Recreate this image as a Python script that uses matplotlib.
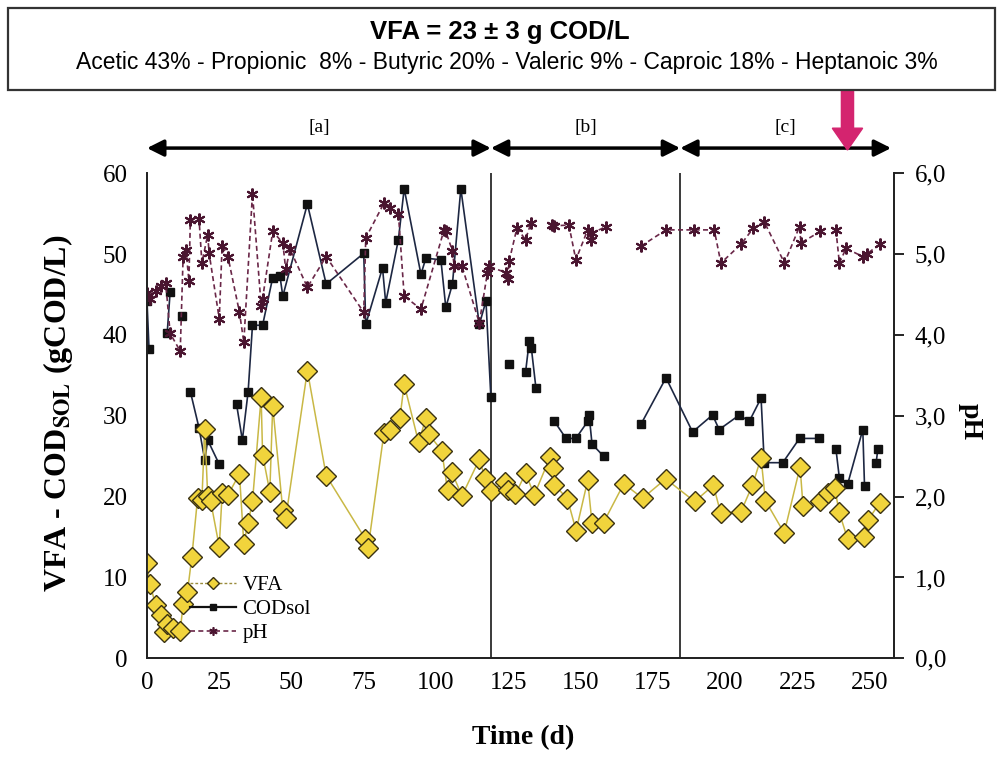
#!/usr/bin/env python3
"""VFA, soluble COD and pH over time with header box of VFA composition."""

import numpy as np
import matplotlib

matplotlib.use("Agg")
import matplotlib.pyplot as plt
from matplotlib import font_manager
from matplotlib.lines import Line2D
from matplotlib.patches import FancyArrow, Rectangle

nan = np.nan

# ---- data ----
VFA_DAY = [0, 1, 3, 5, 6, 7, 9, 11.5, 12.5, 14,
           15.5, 17.5, 19, 20, 21, 22, 25, 26, 28, 32,
           33.5, 35, 36.5, 39.5, 40, 42.5, 43.5, 47, 48, 55.5,
           62, 75.5, 76.5, 82, 84, 87.5, 89, 94, 96.5, 97.5,
           102, 104, 105.5, 109, 115, 117, 119, 124, 125, 127.5,
           131, 134, 139.5, 140.5, 141, 145.5, 148.5, 152.5, 154, 158,
           165, 171.5, 179.5, 189.5, 196, 198.5, 205.5, 209.5, 212.5, 214,
           220.5, 226, 227, 233, 235.5, 238, 239.5, 242.5, 248, 249.5,
           253.5]
VFA = [11.8, 9.2, 6.6, 5.3, 3.3, 4.2, 3.8, 3.4, 6.7, 8.2,
       12.5, 19.8, 19.6, 28.4, 20.1, 19.5, 13.8, 20.4, 20.2, 22.8,
       14.2, 16.8, 19.4, 32.3, 25.2, 20.6, 31.2, 18.3, 17.3, 35.6,
       22.6, 14.8, 13.6, 27.9, 28.2, 29.7, 33.9, 26.7, 29.7, 27.7,
       25.7, 20.8, 23.0, 20.1, 24.6, 22.3, 20.7, 21.8, 20.8, 20.3,
       22.9, 20.2, 24.9, 23.6, 21.5, 19.7, 15.8, 22.0, 16.7, 16.8,
       21.6, 19.8, 22.2, 19.4, 21.4, 18.0, 18.1, 21.4, 24.8, 19.5,
       15.5, 23.7, 18.9, 19.4, 20.4, 21.1, 18.1, 14.7, 15.0, 17.1,
       19.2]

COD_DAY = [0, 0.7, nan, 7, 8, nan, 12, nan, 15, 18,
           20, 21, 25, nan, 31, 33, 35, 36.5, 40, 43.5,
           46, 47, 55.5, 62, 75, 75.7, 81.5, 82.6, 87, 89,
           94.8, 96.5, 101.7, 103.4, 105.7, 108.6, 115, 117.3, 119, nan,
           125.3, nan, 131, 132.3, 133, 134.6, nan, 141, 145, 148.4,
           152.5, 153, 154, 158, nan, 171, 179.6, 188.8, 195.7, 198,
           205, 208.4, 212.5, 213.6, 220, 225.8, 232.7, nan, 238.4, 239.6,
           242.5, 247.7, 248.3, nan, 252.3, 252.9]
COD = [44.2, 38.3, nan, 40.3, 45.3, nan, 42.3, nan, 33.0, 28.5,
       24.5, 27.0, 24.0, nan, 31.4, 27.0, 33.0, 41.2, 41.2, 47.1,
       47.3, 44.8, 56.2, 46.3, 50.1, 41.3, 48.3, 44.0, 51.8, 58.1,
       47.5, 49.5, 49.3, 43.4, 46.3, 58.1, 41.3, 44.2, 32.3, nan,
       36.4, nan, 35.4, 39.3, 38.4, 33.4, nan, 29.3, 27.2, 27.2,
       29.3, 30.1, 26.5, 25.0, nan, 29.0, 34.7, 28.0, 30.1, 28.3,
       30.1, 29.3, 32.2, 24.2, 24.2, 27.2, 27.2, nan, 25.9, 22.3,
       21.6, 28.3, 21.3, nan, 24.1, 25.9]

PH_DAY = [0, 1, 3, 5, 6.5, 8, 11.5, 12.5, 13.5, 14.5,
          15, 18, 19, 21, 21.5, 25, 26, 28, 32, 33.5,
          36.5, 39.5, 40, 43.5, 47, 48, 49.5, 55.5, 62, 75,
          75.7, 82, 84, 87, 89, 94.8, 102.8, 103.4, 105.7, 106.3,
          109, 115, 117.8, 118.4, 124.2, 124.8, 125.3, 128, 131, 132.8,
          nan, 140.3, 141, 146, 148.4, 152.5, 153.6, 154, 158.8, nan,
          171, 179.6, 189.4, 196.3, 198.6, 205.5, 209.8, 213.6, 220.6, 225.8,
          226.3, 233, nan, 238.4, 239.6, 241.9, 247.7, 249, 253.5]
PH = [4.52, 4.45, 4.55, 4.6, 4.64, 4.02, 3.8, 4.97, 5.05, 4.67,
      5.42, 5.44, 4.89, 5.24, 5.01, 4.2, 5.1, 4.97, 4.28, 3.91,
      5.75, 4.36, 4.45, 5.28, 5.14, 4.81, 5.06, 4.59, 4.97, 4.28,
      5.2, 5.63, 5.57, 5.5, 4.48, 4.32, 5.3, 5.28, 5.04, 4.85,
      4.85, 4.15, 4.77, 4.85, 4.77, 4.69, 4.91, 5.32, 5.18, 5.38,
      nan, 5.36, 5.35, 5.36, 4.93, 5.3, 5.18, 5.26, 5.34, nan,
      5.1, 5.3, 5.3, 5.3, 4.89, 5.12, 5.32, 5.4, 4.89, 5.34,
      5.14, 5.28, nan, 5.3, 4.89, 5.07, 4.97, 5.0, 5.12]

PERIOD_EDGES = [0, 119, 184.5, 257.5]
PERIOD_LABELS = ["[a]", "[b]", "[c]"]
SAMPLE_DAY = 242.4

HEADER_TITLE = "VFA = 23 ± 3 g COD/L"
HEADER_SUB = ("Acetic 43% - Propionic  8% - Butyric 20% - Valeric 9% - "
              "Caproic 18% - Heptanoic 3%")

# ---- style ----
SERIF = "Liberation Serif"
installed = {f.name for f in font_manager.fontManager.ttflist}
NARROW = "Liberation Sans Narrow" if "Liberation Sans Narrow" in installed else "Liberation Sans"

VFA_FILL = "#f1d43c"
VFA_EDGE = "#3a3212"
VFA_LINE = "#c9b845"
COD_COLOR = "#111111"
COD_LINE = "#1d2742"
PH_COLOR = "#6a2748"

plt.rcParams["font.family"] = SERIF
plt.rcParams["mathtext.fontset"] = "stix"

W, H = 1001, 765
fig = plt.figure(figsize=(W / 100, H / 100), dpi=100)
ax = fig.add_axes([147 / W, 1 - 658.3 / H, (894 - 147) / W, (658.3 - 173.3) / H])
ax2 = ax.twinx()

ax.plot(COD_DAY, COD, color=COD_LINE, lw=1.2, marker="s", ms=5.5,
        mfc=COD_COLOR, mec=COD_COLOR, zorder=3)
ax.plot(VFA_DAY, VFA, color=VFA_LINE, lw=1.1, marker="D", ms=10,
        mfc=VFA_FILL, mec=VFA_EDGE, mew=1.0, zorder=4)
ax2.plot(PH_DAY, PH, color=PH_COLOR, lw=1.2, ls=(0, (3, 2)), marker=(6, 2, 0),
         ms=8.5, mec="#4a1530", mew=1.5)

for edge in PERIOD_EDGES[1:-1]:
    ax.axvline(edge, color="#2b2b2b", lw=1.3, zorder=2)

ax.set_xlim(0, 258.5)
ax.set_ylim(0, 60)
ax2.set_ylim(0, 6)
ax.set_xticks(range(0, 251, 25))
ax.set_yticks(range(0, 61, 10))
ph_ticks = np.arange(0, 6.01, 1.0)
ax2.set_yticks(ph_ticks)
ax2.set_yticklabels([f"{v:.1f}".replace(".", ",") for v in ph_ticks])

for a in (ax, ax2):
    a.spines["top"].set_visible(False)
    for s in a.spines.values():
        s.set_linewidth(1.3)
        s.set_color("#222222")
ax.tick_params(axis="x", length=0, labelsize=18, pad=10)
ax.tick_params(axis="y", length=0, labelsize=18, pad=14)
ax2.tick_params(axis="y", length=7, width=1.2, direction="out", labelsize=18, pad=8)

fig.text(58 / W, 1 - 413 / H, r"VFA - COD$_{\mathbf{SOL}}$ (gCOD/L)", rotation=90,
         ha="center", va="center", fontsize=23, fontweight="bold")
fig.text(523 / W, 1 - 738 / H, "Time (d)", ha="center", va="center",
         fontsize=20, fontweight="bold")
fig.text(970 / W, 1 - 422 / H, "pH", rotation=270, ha="center", va="center",
         fontsize=20, fontweight="bold")

# period arrows and labels above the plot
xt = ax.get_xaxis_transform()
for lo, hi, lab in zip(PERIOD_EDGES[:-1], PERIOD_EDGES[1:], PERIOD_LABELS):
    ax.annotate("", xy=(hi, 1.052), xytext=(lo, 1.052), xycoords=xt, textcoords=xt,
                annotation_clip=False,
                arrowprops=dict(arrowstyle="<|-|>,head_length=0.5,head_width=0.25",
                                lw=2.5, color="black", shrinkA=0, shrinkB=0,
                                mutation_scale=20))
    ax.text((lo + hi) / 2, 1.094, lab, transform=xt, ha="center", va="center",
            fontsize=14)

# sampling arrow
ax.add_patch(FancyArrow(SAMPLE_DAY, 1.17, 0, -0.122, width=4.2, head_width=10.5,
                        head_length=0.045, length_includes_head=True,
                        transform=xt, color="#d4246f", clip_on=False, zorder=6))

# header box
fig.patches.append(Rectangle((8 / W, 1 - 90 / H), (995 - 8) / W, (90 - 8) / H,
                             transform=fig.transFigure, fill=False, lw=1.6,
                             ec="#333333"))
fig.text(500 / W, 1 - 32 / H, HEADER_TITLE, ha="center", va="center",
         fontsize=18.5, fontweight="bold", family=NARROW)
fig.text(507 / W, 1 - 63 / H, HEADER_SUB, ha="center", va="center",
         fontsize=16.5, family=NARROW)

handles = [
    Line2D([], [], color="#9a8c3c", lw=1, ls=(0, (2, 1.5)), marker="D", ms=6,
           mfc=VFA_FILL, mec=VFA_EDGE),
    Line2D([], [], color=COD_COLOR, lw=1.6, marker="s", ms=5, mfc=COD_COLOR,
           mec=COD_COLOR),
    Line2D([], [], color=PH_COLOR, lw=1.2, ls=(0, (3, 2)), marker=(6, 2, 0),
           ms=6, mec="#4a1530", mew=1.2),
]
ax.legend(handles, ["VFA", "CODsol", "pH"], loc="upper left",
          bbox_to_anchor=(0.058, 0.17), frameon=False, fontsize=15,
          handlelength=2.2, handletextpad=0.3, labelspacing=0.2,
          borderpad=0, borderaxespad=0)

fig.savefig("out.png", dpi=100)
